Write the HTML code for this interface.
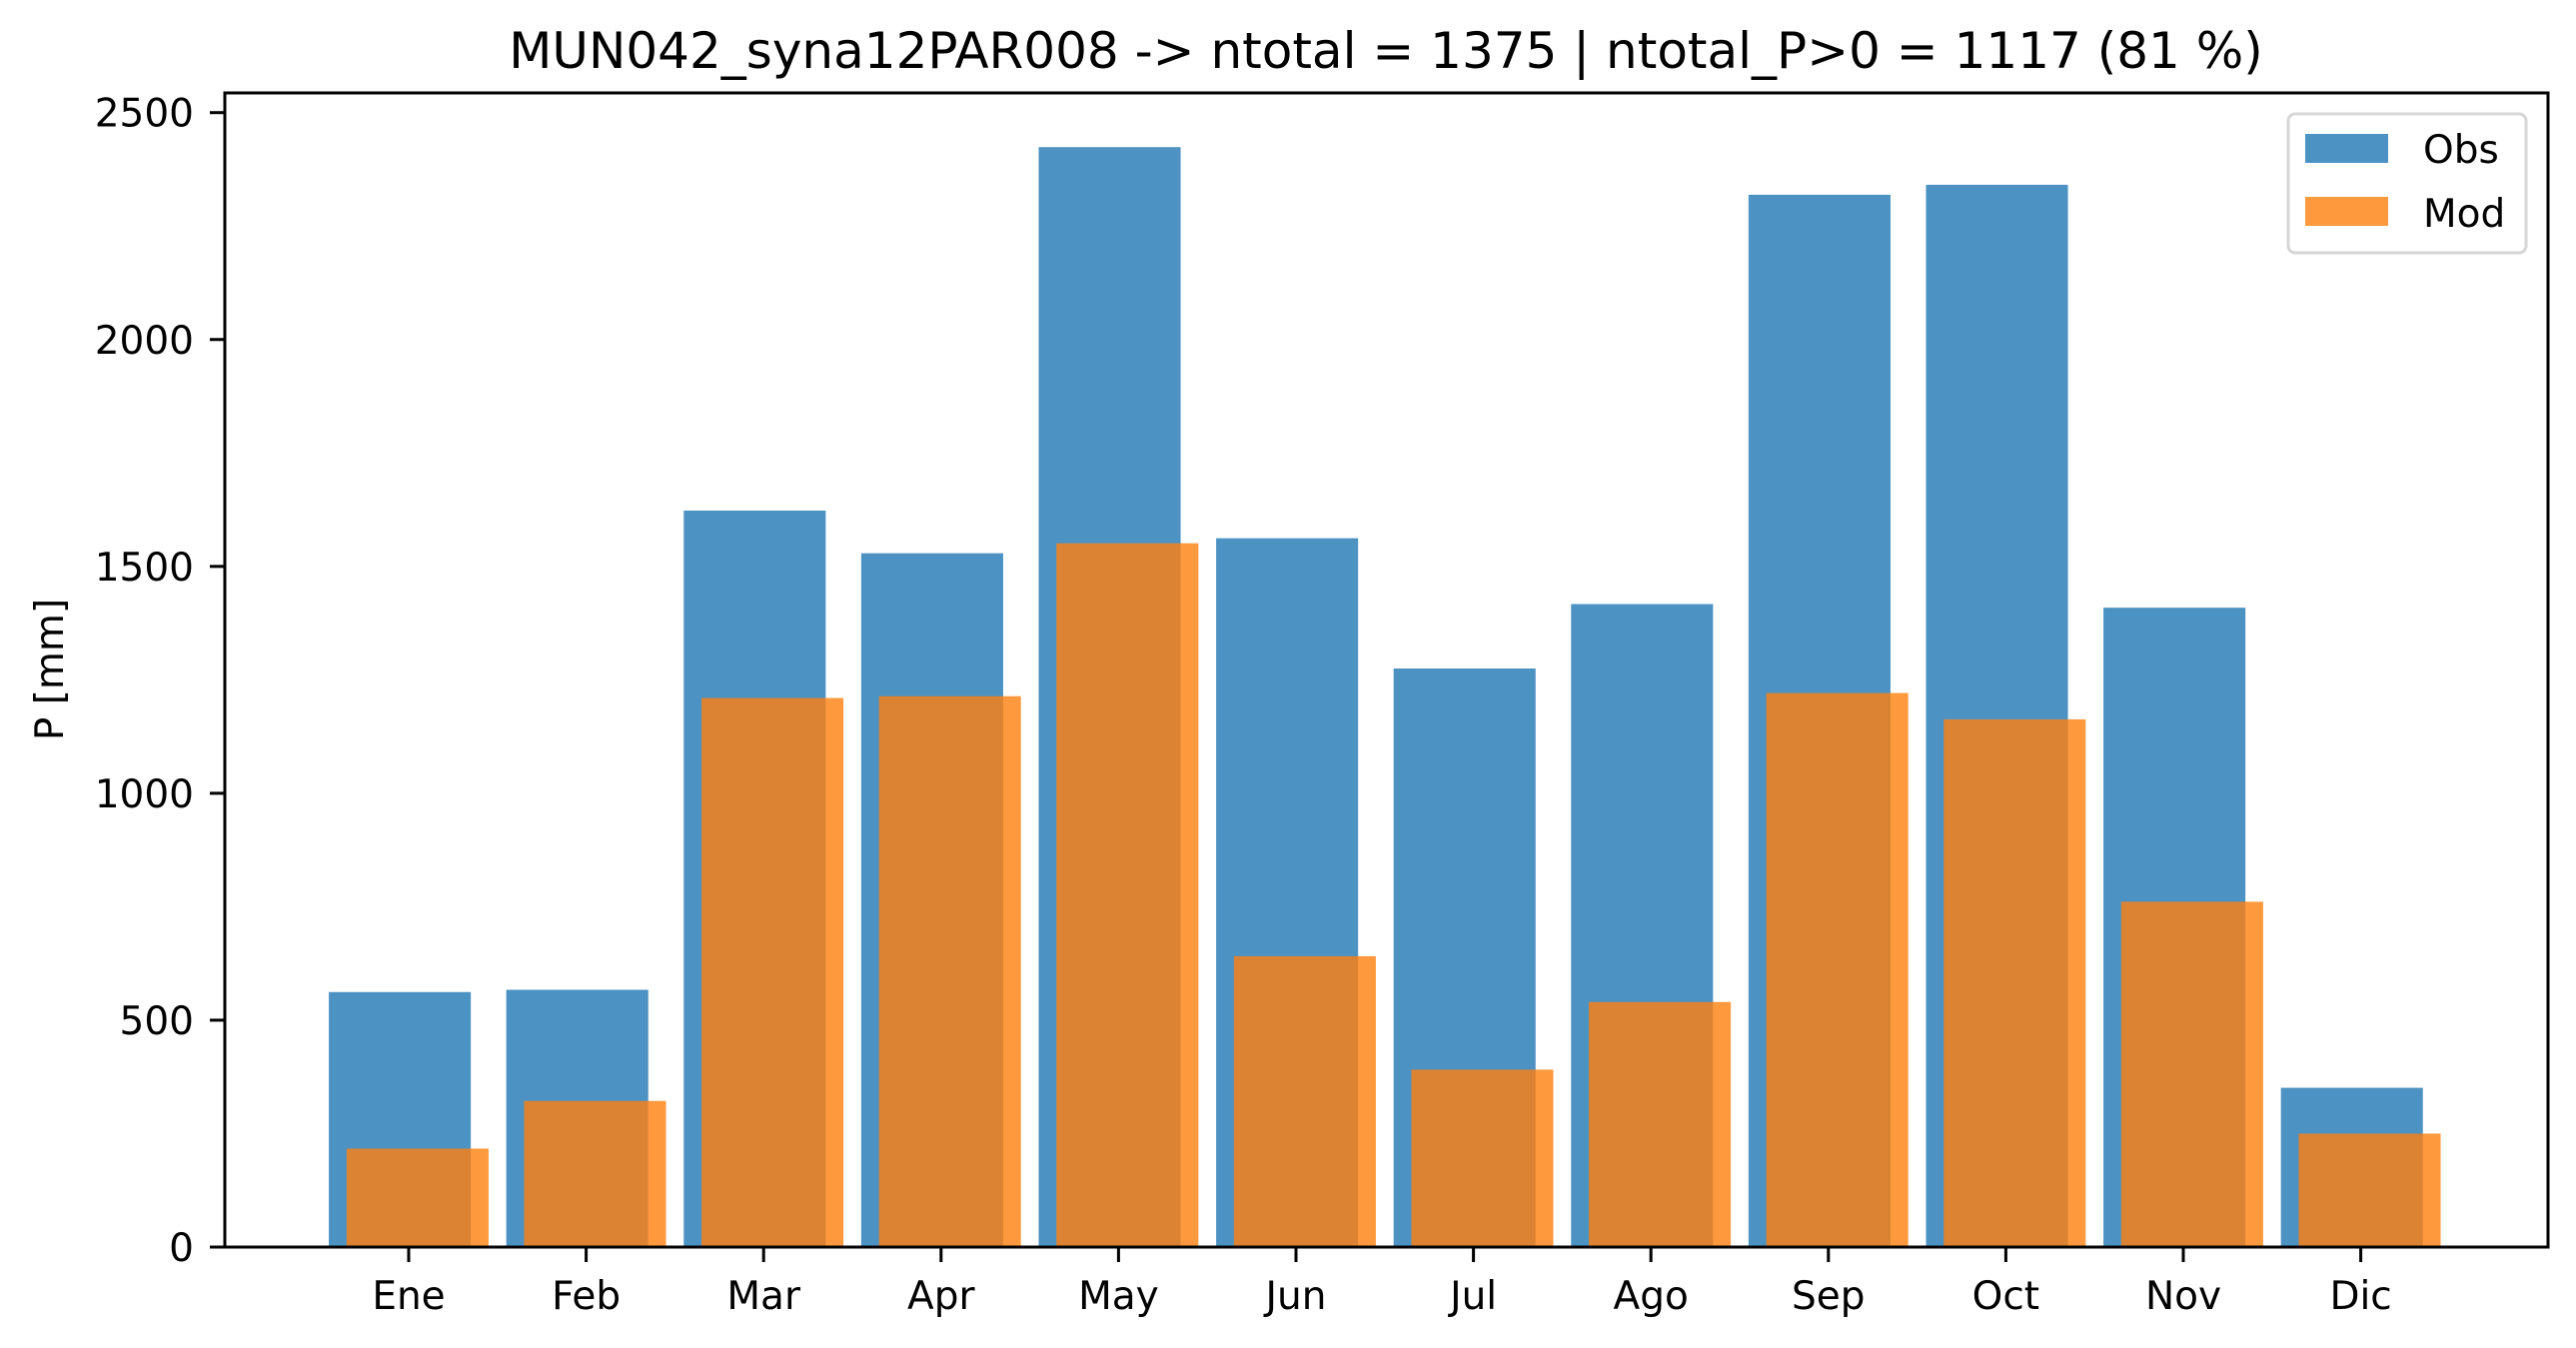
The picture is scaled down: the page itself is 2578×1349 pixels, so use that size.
<!DOCTYPE html>
<html><head><meta charset="utf-8"><style>
html,body{margin:0;padding:0;background:#fff;}
svg{display:block;font-family:"DejaVu Sans","Liberation Sans",sans-serif;}
</style></head><body>
<svg id="chart" width="2578" height="1349" viewBox="0 0 2578 1349" xmlns="http://www.w3.org/2000/svg">
<rect width="2578" height="1349" fill="#fff"/>
<text x="1387" y="68" font-size="50" text-anchor="middle" fill="#000">MUN042_syna12PAR008 -&gt; ntotal = 1375 | ntotal_P&gt;0 = 1117 (81 %)</text>
<text transform="translate(63,670) rotate(-90)" font-size="39" text-anchor="middle" fill="#000">P [mm]</text>
<g id="bars"></g>
<g id="axes"></g>
<g>
<rect x="2290" y="114" width="238" height="139" rx="7" fill="#fff" fill-opacity="0.8" stroke="#d6d6d6" stroke-width="3"/>
<rect x="2307" y="134" width="83" height="29" fill="#1f77b4" fill-opacity="0.8"/>
<text x="2425" y="163" font-size="39" fill="#000">Obs</text>
<rect x="2307" y="197" width="83" height="29" fill="#ff7f0e" fill-opacity="0.8"/>
<text x="2425" y="227" font-size="39" fill="#000">Mod</text>
</g>
</svg>
<script>
const months = ["Ene","Feb","Mar","Apr","May","Jun","Jul","Ago","Sep","Oct","Nov","Dic"];
const obsValues = [562,567,1623,1529,2424,1562,1275,1417,2319,2341,1409,351];
const modValues = [217,322,1210,1214,1551,641,391,540,1221,1163,761,250];
const yTicks = [0,500,1000,1500,2000,2500];

const NS = "http://www.w3.org/2000/svg";
const L = 225, R = 2550, T = 93, B = 1248;
const X0 = 409, STEP = 177.6;
const YPX = (B - 112.7) / 2500;
function xScale(i){ return X0 + STEP * i; }
function yScale(v){ return B - v * YPX; }
function mk(tag, attrs){ const e = document.createElementNS(NS, tag); for (const k in attrs) e.setAttribute(k, attrs[k]); return e; }

const bars = document.getElementById('bars');
const W = 0.8 * STEP, OFF = 0.05 * STEP;
obsValues.forEach((v, i) => {
  const r = mk('rect', {x: xScale(i) - OFF - W/2, y: yScale(v), width: W, height: B - yScale(v), fill: '#1f77b4', 'fill-opacity': 0.8});
  
  
  bars.appendChild(r);
});
modValues.forEach((v, i) => {
  const r = mk('rect', {x: xScale(i) + OFF - W/2, y: yScale(v), width: W, height: B - yScale(v), fill: '#ff7f0e', 'fill-opacity': 0.8});
  
  
  bars.appendChild(r);
});

const axes = document.getElementById('axes');
const frame = mk('rect', {x: L, y: T, width: R - L, height: B - T, fill: 'none', stroke: '#000', 'stroke-width': 3});


axes.appendChild(frame);

yTicks.forEach(t => {
  const y = yScale(t);
  const tk = mk('line', {x1: L - 15, x2: L, y1: y, y2: y, stroke: '#000', 'stroke-width': 3});
  
  
  axes.appendChild(tk);
  const tx = mk('text', {x: L - 31, y: y + 14, 'font-size': 39, 'text-anchor': 'end', fill: '#000'});
  tx.textContent = t;
  
  
  axes.appendChild(tx);
});

months.forEach((m, i) => {
  const x = xScale(i);
  const tk = mk('line', {x1: x, x2: x, y1: B, y2: B + 15, stroke: '#000', 'stroke-width': 3});
  
  
  axes.appendChild(tk);
  const tx = mk('text', {x: x, y: 1310, 'font-size': 39, 'text-anchor': 'middle', fill: '#000'});
  tx.textContent = m;
  
  
  axes.appendChild(tx);
});
</script>
</body></html>
